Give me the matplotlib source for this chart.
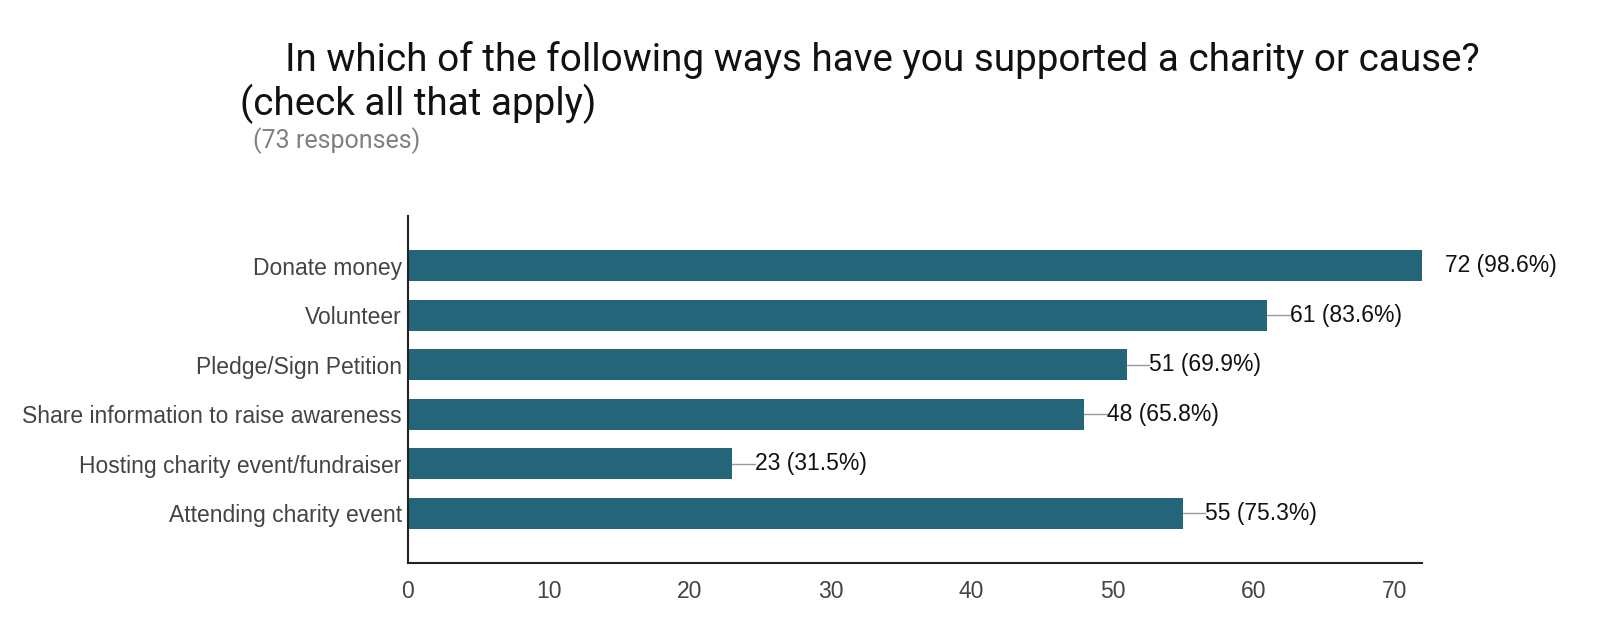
import matplotlib
matplotlib.use("Agg")
import matplotlib.pyplot as plt

# ---------------------------------------------------------------------------
# Data
# ---------------------------------------------------------------------------
CATEGORIES = ["Donate money", "Volunteer", "Pledge/Sign Petition",
              "Share information to raise awareness",
              "Hosting charity event/fundraiser", "Attending charity event"]
COUNTS  = [72, 61, 51, 48, 23, 55]
PERCENT = [98.6, 83.6, 69.9, 65.8, 31.5, 75.3]
XTICKS  = [0, 10, 20, 30, 40, 50, 60, 70]

TITLE    = "In which of the following ways have you supported a charity or cause?"
TITLE2   = "(check all that apply)"
SUBTITLE = "(73 responses)"

BAR_COLOR = "#24657a"
LEADER    = 1.6   # leader line length in data units

fig = plt.figure(figsize=(16, 6.26), dpi=100)
ax = fig.add_axes([0.255, 0.1006, 0.634, 0.5543])

ypos = list(range(len(CATEGORIES)))
ax.barh(ypos, COUNTS, height=0.625, color=BAR_COLOR)
ax.set_xlim(0, 72)
ax.set_ylim(len(CATEGORIES), -1.0)

ax.set_yticks(ypos)
ax.set_yticklabels(CATEGORIES, family="Liberation Sans", fontsize=16.5,
                   color="#444444")
ax.set_xticks(XTICKS)
ax.set_xticklabels([str(t) for t in XTICKS], family="Liberation Sans",
                   fontsize=16.5, color="#444444")
ax.tick_params(axis="both", length=0)
ax.tick_params(axis="y", pad=4.5)
ax.tick_params(axis="x", pad=12)

for s in ("top", "right"):
    ax.spines[s].set_visible(False)
for s in ("left", "bottom"):
    ax.spines[s].set_color("#222222")
    ax.spines[s].set_linewidth(1.5)

# value labels with short leader lines
for y, c, p in zip(ypos, COUNTS, PERCENT):
    ax.plot([c, c + LEADER], [y, y], color="#999999", lw=1, clip_on=True)
    ax.text(c + LEADER, y, f"{c} ({p}%)", va="center", ha="left",
            family="Liberation Sans", fontsize=16.5, color="#111111",
            clip_on=False)

fig.text(0.178, 0.886, TITLE, family="Roboto", fontsize=27.8, color="#111111",
         va="baseline")
fig.text(0.150, 0.816, TITLE2, family="Roboto", fontsize=27.8, color="#111111",
         va="baseline")
fig.text(0.158, 0.764, SUBTITLE, family="Roboto", fontsize=18, color="#808080",
         va="baseline")

fig.savefig("out.png", dpi=100)
